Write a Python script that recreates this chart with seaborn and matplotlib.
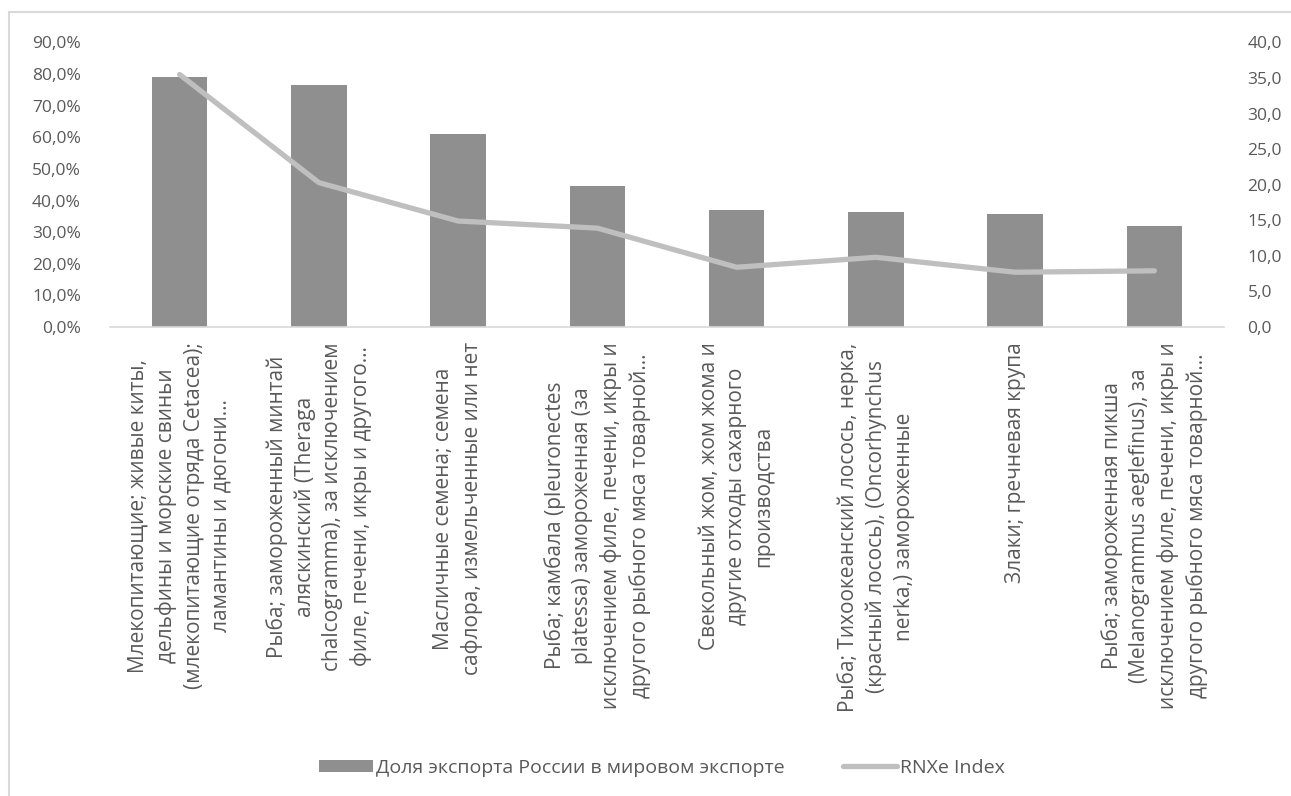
import numpy as np
import pandas as pd
import matplotlib
matplotlib.use("Agg")
import matplotlib.pyplot as plt
import seaborn as sns
from matplotlib.patches import Rectangle
from matplotlib.lines import Line2D
from matplotlib.patches import Patch
from matplotlib.ticker import FuncFormatter

categories = [
    "Млекопитающие; живые киты,\nдельфины и морские свиньи\n(млекопитающие отряда Cetacea);\nламантины и дюгони…",
    "Рыба; замороженный минтай\nаляскинский (Theraga\nchalcogramma), за исключением\nфиле, печени, икры и другого…",
    "Масличные семена; семена\nсафлора, измельченные или нет",
    "Рыба; камбала (pleuronectes\nplatessa) замороженная (за\nисключением филе, печени, икры и\nдругого рыбного мяса товарной…",
    "Свекольный жом, жом жома и\nдругие отходы сахарного\nпроизводства",
    "Рыба; Тихоокеанский лосось, нерка,\n(красный лосось), (Oncorhynchus\nnerka,) замороженные",
    "Злаки; гречневая крупа",
    "Рыба; замороженная пикша\n(Melanogrammus aeglefinus), за\nисключением филе, печени, икры и\nдругого рыбного мяса товарной…",
]
export_share = [0.792, 0.767, 0.609, 0.445, 0.369, 0.363, 0.356, 0.319]
rnxe_index = [35.5, 20.3, 14.9, 13.9, 8.4, 9.8, 7.7, 7.9]

bar_label = "Доля экспорта России в мировом экспорте"
line_label = "RNXe Index"

sns.set_theme(style="white")
plt.rcParams["font.family"] = ["Open Sans", "DejaVu Sans"]

TXT = "#595959"
BAR = "#8f8f8f"
LINE = "#bfbfbf"
GRID = "#d9d9d9"

W, H = 1291, 796
fig = plt.figure(figsize=(W / 100, H / 100), dpi=100)
ax = fig.add_axes([110 / W, 1 - 327 / H, (1224 - 110) / W, (327 - 42.5) / H])

df = pd.DataFrame({"cat": categories, "share": export_share})
sns.barplot(data=df, x="cat", y="share", ax=ax, color=BAR, width=0.4,
            saturation=1, edgecolor="none", linewidth=0)
ax.set_ylim(0, 0.9)
ax.set_xlim(-0.5, len(categories) - 0.5)
ax.set_yticks(np.arange(0, 0.91, 0.1))
ax.yaxis.set_major_formatter(FuncFormatter(lambda v, p: f"{v*100:.1f}%".replace(".", ",")))
ax.set_xlabel("")
ax.set_ylabel("")
for s in ["top", "right", "left"]:
    ax.spines[s].set_visible(False)
ax.spines["bottom"].set_color(GRID)
ax.spines["bottom"].set_linewidth(1.2)
ax.tick_params(axis="both", length=0, colors=TXT, labelsize=12.5)
ax.tick_params(axis="y", pad=21)
ax.tick_params(axis="x", pad=11)
ax.set_xticks(range(len(categories)))
ax.set_xticklabels(categories, rotation=90, ha="center", va="top",
                   multialignment="center", fontsize=15, color=TXT, linespacing=1.4)

ax2 = ax.twinx()
sns.lineplot(x=np.arange(len(rnxe_index)), y=rnxe_index, ax=ax2, color=LINE,
             linewidth=3.8, solid_capstyle="round")
ax2.set_ylim(0, 40)
ax2.set_yticks(np.arange(0, 41, 5))
ax2.yaxis.set_major_formatter(FuncFormatter(lambda v, p: f"{v:.1f}".replace(".", ",")))
for s in ["top", "right", "left", "bottom"]:
    ax2.spines[s].set_visible(False)
ax2.tick_params(axis="y", length=0, colors=TXT, labelsize=12.5, pad=17)
ax2.set_ylabel("")

# chart border
fig.add_artist(Rectangle((9 / W, -0.05), 1.2, 1 - 12 / H + 0.05, transform=fig.transFigure,
                         fill=False, edgecolor=GRID, linewidth=1.5))

handles = [Patch(facecolor=BAR, edgecolor="none"),
           Line2D([0], [0], color=LINE, linewidth=3.8, solid_capstyle="round")]
fig.legend(handles, [bar_label, line_label], loc="center", bbox_to_anchor=(662 / W, 1 - 768 / H),
           ncol=2, frameon=False, fontsize=14, labelcolor=TXT, handlelength=2.8,
           handleheight=0.6, columnspacing=3.0, handletextpad=0.15)

fig.savefig("out.png", dpi=100)
